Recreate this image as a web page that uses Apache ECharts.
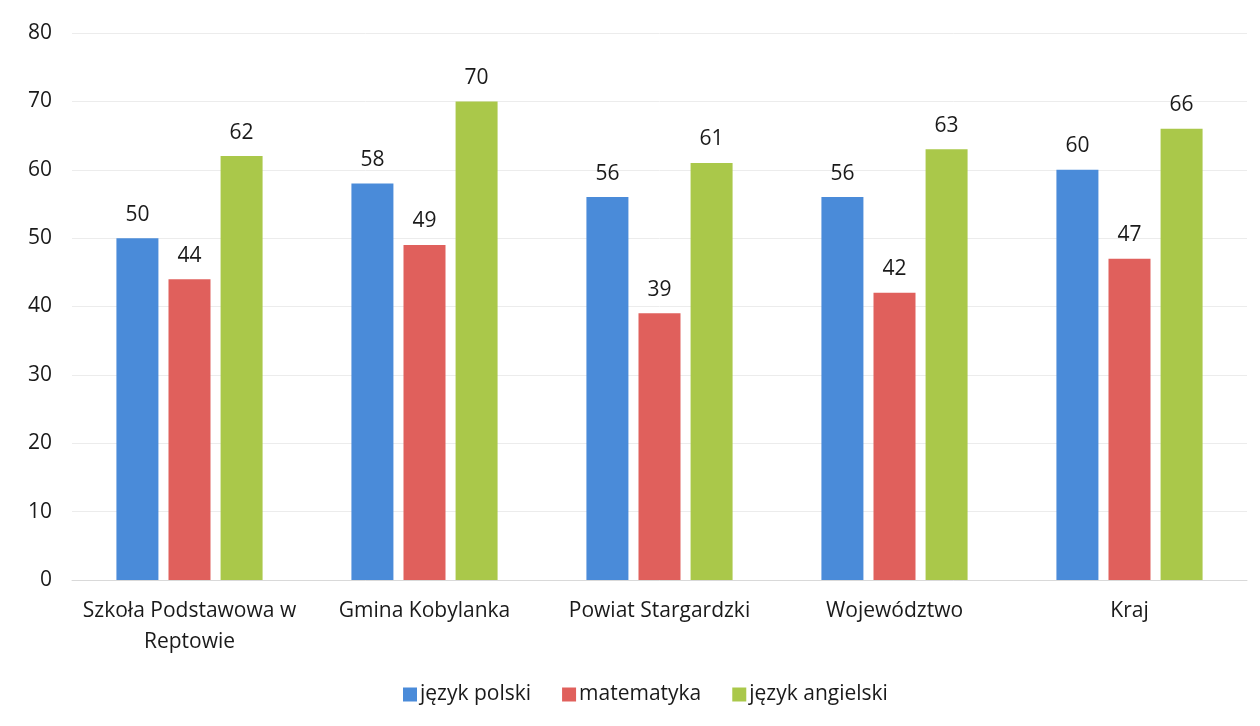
<!DOCTYPE html>
<html><head><meta charset="utf-8">
<script src="https://cdn.jsdelivr.net/npm/echarts@6/dist/echarts.min.js"></script>
<style>html,body{margin:0;padding:0;background:#fff}#c{width:1260px;height:726px}</style>
</head><body><div id="c"></div>
<script>
const categories = ['Szkoła Podstawowa w\nReptowie', 'Gmina Kobylanka', 'Powiat Stargardzki', 'Województwo', 'Kraj'];
const seriesNames = ['język polski', 'matematyka', 'język angielski'];
const polski = [50, 58, 56, 56, 60];
const matematyka = [44, 49, 39, 42, 47];
const angielski = [62, 70, 61, 63, 66];
const yTicks = { min: 0, max: 80, interval: 10 };
const colors = ['#4a8bd9', '#e0605c', '#aac84a'];
const font = '"Open Sans", sans-serif';
const chart = echarts.init(document.getElementById('c'), null, {renderer: 'canvas'});
const mk = (name, data, i) => ({
  name, type: 'bar', data, barWidth: 42, barGap: '24%',
  itemStyle: { color: colors[i] },
  label: { show: true, position: 'top', distance: 13, color: '#1a1a1a', fontSize: 21, fontFamily: font },
  emphasis: { disabled: true }
});
chart.setOption({
  animation: false,
  textStyle: { fontFamily: font },
  grid: { left: 72, right: 13, top: 33, bottom: 146, containLabel: false },
  legend: {
    bottom: 16, left: 398, itemWidth: 14, itemHeight: 14, itemGap: 31,
    icon: 'rect', textStyle: { fontSize: 21, color: '#1a1a1a', fontFamily: font, padding: [0, 0, 0, -2] }
  },
  xAxis: {
    type: 'category', data: categories,
    axisLine: { lineStyle: { color: '#d9d9d9' } },
    axisTick: { show: false },
    axisLabel: { fontSize: 21, color: '#1a1a1a', margin: 16, lineHeight: 31, fontFamily: font, interval: 0 }
  },
  yAxis: {
    type: 'value', min: yTicks.min, max: yTicks.max, interval: yTicks.interval,
    axisLine: { show: false }, axisTick: { show: false },
    splitLine: { lineStyle: { color: '#ececec' } },
    axisLabel: { fontSize: 21, color: '#1a1a1a', margin: 20, fontFamily: font }
  },
  series: [mk(seriesNames[0], polski, 0), mk(seriesNames[1], matematyka, 1), mk(seriesNames[2], angielski, 2)]
});
</script></body></html>
